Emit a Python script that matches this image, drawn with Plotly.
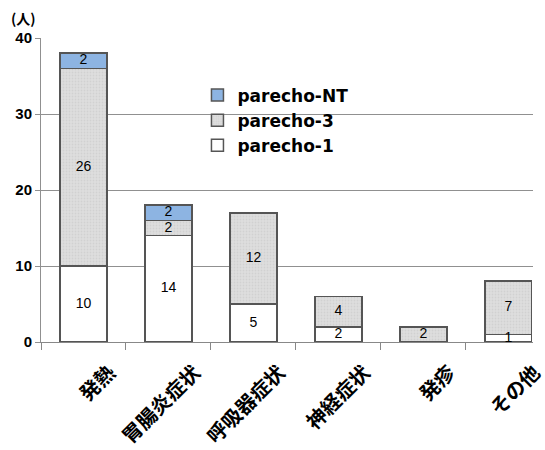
import plotly.graph_objects as go

# 症状別の患者数（人）
categories = ["発熱", "胃腸炎症状", "呼吸器症状", "神経症状", "発疹", "その他"]
parecho_1 = [10, 14, 5, 2, 0, 1]
parecho_3 = [26, 2, 12, 4, 2, 7]
parecho_nt = [2, 2, 0, 0, 0, 0]

y_ticks = [0, 10, 20, 30, 40]

JP_FONT = "Noto Sans CJK JP"
EDGE = "#555555"

series = [
    ("parecho-1", parecho_1, dict(color="#ffffff", line=dict(color=EDGE, width=1.5))),
    ("parecho-3", parecho_3, dict(color="#dcdcdc", line=dict(color=EDGE, width=1.5),
                                  pattern=dict(shape=".", bgcolor="#dedede", fgcolor="#c4c4c4",
                                               size=3, solidity=0.3))),
    ("parecho-NT", parecho_nt, dict(color="#8db4e2", line=dict(color=EDGE, width=1.5))),
]

fig = go.Figure()

for name, values, marker in series:
    fig.add_trace(go.Bar(name=name, x=categories, y=values, marker=marker))

# segment labels drawn last so they sit above every bar
lab_x, lab_y, lab_t = [], [], []
base = [0] * len(categories)
for _, values, _ in series:
    for i, v in enumerate(values):
        if v:
            lab_x.append(categories[i])
            lab_y.append(base[i] + v / 2)
            lab_t.append(str(v))
        base[i] += v

fig.add_trace(go.Scatter(
    x=lab_x, y=lab_y, text=lab_t, mode="text", showlegend=False,
    hoverinfo="skip", cliponaxis=False,
    textfont=dict(family="Liberation Sans, Arial", size=14, color="#000000"),
))

fig.update_layout(
    width=545, height=450,
    barmode="stack", bargap=0.45,
    plot_bgcolor="#ffffff", paper_bgcolor="#ffffff",
    margin=dict(l=41, r=0, t=38, b=108),
    showlegend=True,
    legend=dict(
        x=0.318, y=0.87, xanchor="left", yanchor="top",
        traceorder="reversed", bgcolor="rgba(0,0,0,0)",
        font=dict(family="DejaVu Sans", size=17, color="#000000", weight="bold"),
        itemwidth=30, tracegroupgap=0,
    ),
    xaxis=dict(
        range=[-0.5, 5.29],
        showgrid=False,
        showline=True, linecolor="#888888", linewidth=1,
        ticks="outside", ticklen=7, tickcolor="#888888",
        tickson="boundaries",
        tickangle=-45,
        ticklabelshift=26,
        ticklabelstandoff=10,
        tickfont=dict(family=JP_FONT, size=20, color="#000000", weight="bold"),
    ),
    yaxis=dict(
        range=[0, 40], tickvals=y_ticks,
        showgrid=True, gridcolor="#909090", gridwidth=1,
        showline=True, linecolor="#909090", linewidth=1,
        ticks="outside", ticklen=5, tickcolor="#909090",
        zeroline=False,
        tickfont=dict(family="Liberation Sans, Arial", size=15, color="#000000", weight="bold"),
    ),
    annotations=[dict(
        text="(人)", xref="paper", yref="paper", x=-0.065, y=1.065,
        xanchor="left", yanchor="middle", showarrow=False,
        font=dict(family=JP_FONT, size=14, color="#000000", weight="bold"),
    )],
)

fig.write_html("out.html")
